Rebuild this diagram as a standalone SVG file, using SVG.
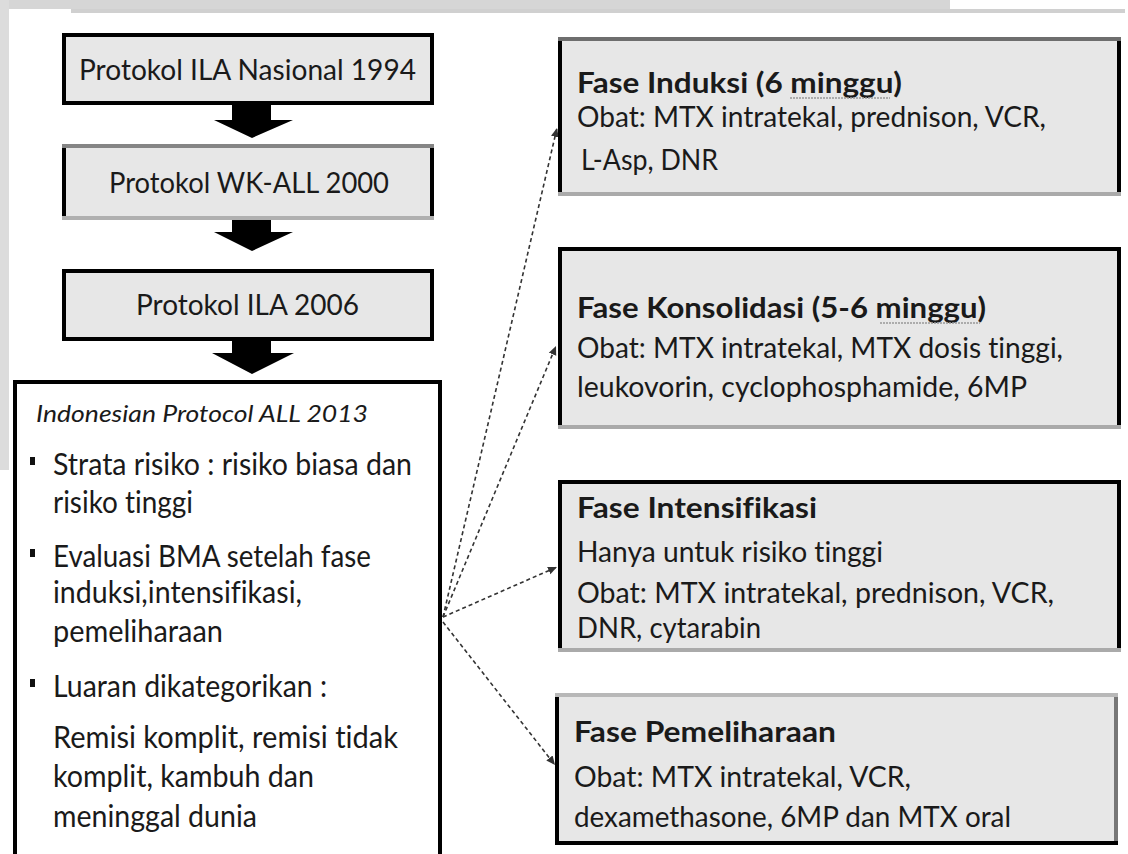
<svg xmlns="http://www.w3.org/2000/svg" width="1128" height="854" viewBox="0 0 1128 854">
<style>
.t{font-family:Lato,"Liberation Sans",sans-serif;fill:#1a1a1a;font-variant-ligatures:none;font-feature-settings:"liga" 0;}
.box{fill:#e7e7e7;stroke:#000;stroke-width:4;}
.big{fill:#fff;stroke:#000;stroke-width:4;}
.n{font-size:28px;}
.b{font-size:28px;font-weight:bold;}
.l{font-size:30px;}
.it{font-size:24px;font-style:italic;}
.conn{stroke:#333;stroke-width:1.6;stroke-dasharray:4 3;fill:none;}
.sq{stroke:#999;stroke-width:1.5;stroke-dasharray:2 1;}
</style>
<defs>
<marker id="ah" markerWidth="10" markerHeight="10" refX="9" refY="5" orient="auto" markerUnits="userSpaceOnUse">
<path d="M0,1 L9,5 L0,9 Z" fill="#333"/>
</marker>
</defs>
<rect width="1128" height="854" fill="#fff"/>
<g id="frame">
<rect x="0" y="0" width="950" height="9" fill="#d6d6d6"/>
<rect x="71" y="9" width="1054" height="4" fill="#d0d0d0"/>
<rect x="0" y="0" width="9" height="470" fill="#dcdcdc"/>
</g>
<g id="connectors">
<polygon points="232,105 271,105 271,120 293,120 252,138 214,120 232,120" fill="#000"/>
<polygon points="232,220 271,220 271,232 293,232 252,251 214,232 232,232" fill="#000"/>
<polygon points="232,341 271,341 271,353 294,353 252,374 212,353 232,353" fill="#000"/>
<line class="conn" x1="443" y1="617" x2="557" y2="128" marker-end="url(#ah)"/>
<line class="conn" x1="443" y1="617" x2="556" y2="346" marker-end="url(#ah)"/>
<line class="conn" x1="443" y1="617" x2="557" y2="567" marker-end="url(#ah)"/>
<line class="conn" x1="443" y1="622" x2="555" y2="765" marker-end="url(#ah)"/>
</g>
<g id="node1">
<rect class="box" x="64" y="35" width="368" height="68"/>
<text class="t n" x="79" y="80" textLength="337" lengthAdjust="spacingAndGlyphs">Protokol ILA Nasional 1994</text>
</g>
<g id="node2">
<rect class="box" x="64" y="146" width="368" height="72"/>
<line x1="62" y1="146" x2="434" y2="146" stroke="#858585" stroke-width="4"/>
<line x1="62" y1="218" x2="434" y2="218" stroke="#b0b0b0" stroke-width="4"/>
<text class="t n" x="109" y="193" textLength="280" lengthAdjust="spacingAndGlyphs">Protokol WK-ALL 2000</text>
</g>
<g id="node3">
<rect class="box" x="64" y="271" width="368" height="68"/>
<text class="t n" x="136" y="315" textLength="223" lengthAdjust="spacingAndGlyphs">Protokol ILA 2006</text>
</g>
<g id="node4">
<rect class="big" x="15" y="382" width="425" height="480"/>
<text class="t it" x="36" y="422" textLength="332" lengthAdjust="spacingAndGlyphs">Indonesian Protocol ALL 2013</text>
<rect x="30" y="457" width="5" height="8" fill="#111"/>
<rect x="30" y="549" width="5" height="8" fill="#111"/>
<rect x="30" y="679" width="5" height="8" fill="#111"/>
<text class="t l" x="53" y="475" textLength="359" lengthAdjust="spacingAndGlyphs">Strata risiko : risiko biasa dan</text>
<text class="t l" x="53" y="513" textLength="140" lengthAdjust="spacingAndGlyphs">risiko tinggi</text>
<text class="t l" x="53" y="567" textLength="318" lengthAdjust="spacingAndGlyphs">Evaluasi BMA setelah fase</text>
<text class="t l" x="53" y="603" textLength="249" lengthAdjust="spacingAndGlyphs">induksi,intensifikasi,</text>
<text class="t l" x="53" y="642" textLength="170" lengthAdjust="spacingAndGlyphs">pemeliharaan</text>
<text class="t l" x="53" y="697" textLength="274" lengthAdjust="spacingAndGlyphs">Luaran dikategorikan :</text>
<text class="t l" x="53" y="748" textLength="345" lengthAdjust="spacingAndGlyphs">Remisi komplit, remisi tidak</text>
<text class="t l" x="53" y="787" textLength="261" lengthAdjust="spacingAndGlyphs">komplit, kambuh dan</text>
<text class="t l" x="53" y="827" textLength="204" lengthAdjust="spacingAndGlyphs">meninggal dunia</text>
</g>
<g id="nodeA">
<rect class="box" x="560" y="39" width="559" height="155"/>
<line x1="558" y1="39" x2="1121" y2="39" stroke="#6e6e6e" stroke-width="4"/>
<line x1="558" y1="194" x2="1121" y2="194" stroke="#aaaaaa" stroke-width="4"/>
<text class="t b" x="577" y="93" textLength="325" lengthAdjust="spacingAndGlyphs">Fase Induksi (6 minggu)</text>
<line class="sq" x1="790" y1="98" x2="890" y2="98"/>
<text class="t n" x="577" y="127" textLength="469" lengthAdjust="spacingAndGlyphs">Obat: MTX intratekal, prednison, VCR,</text>
<text class="t n" x="581" y="170" textLength="137" lengthAdjust="spacingAndGlyphs">L-Asp, DNR</text>
</g>
<g id="nodeB">
<rect class="box" x="560" y="249" width="559" height="178"/>
<line x1="558" y1="427" x2="1121" y2="427" stroke="#aaaaaa" stroke-width="4"/>
<text class="t b" x="577" y="318" textLength="409" lengthAdjust="spacingAndGlyphs">Fase Konsolidasi (5-6 minggu)</text>
<line class="sq" x1="880" y1="323" x2="980" y2="323"/>
<text class="t n" x="577" y="358" textLength="486" lengthAdjust="spacingAndGlyphs">Obat: MTX intratekal,  MTX dosis tinggi,</text>
<text class="t n" x="577" y="397" textLength="450" lengthAdjust="spacingAndGlyphs">leukovorin, cyclophosphamide, 6MP</text>
</g>
<g id="nodeC">
<rect class="box" x="560" y="482" width="559" height="168"/>
<line x1="558" y1="650" x2="1121" y2="650" stroke="#aaaaaa" stroke-width="4"/>
<text class="t b" x="577" y="518" textLength="240" lengthAdjust="spacingAndGlyphs">Fase Intensifikasi</text>
<text class="t n" x="577" y="562" textLength="306" lengthAdjust="spacingAndGlyphs">Hanya untuk risiko tinggi</text>
<text class="t n" x="577" y="603" textLength="477" lengthAdjust="spacingAndGlyphs">Obat: MTX intratekal,  prednison, VCR,</text>
<text class="t n" x="577" y="638" textLength="184" lengthAdjust="spacingAndGlyphs">DNR, cytarabin</text>
</g>
<g id="nodeD">
<rect class="box" x="557" y="695" width="559" height="148"/>
<line x1="555" y1="695" x2="1118" y2="695" stroke="#b8b8b8" stroke-width="4"/>
<line x1="1116" y1="697" x2="1116" y2="841" stroke="#777" stroke-width="4"/>
<text class="t b" x="574" y="742" textLength="262" lengthAdjust="spacingAndGlyphs">Fase Pemeliharaan</text>
<text class="t n" x="574" y="787" textLength="337" lengthAdjust="spacingAndGlyphs">Obat: MTX intratekal,  VCR,</text>
<text class="t n" x="574" y="827" textLength="437" lengthAdjust="spacingAndGlyphs">dexamethasone, 6MP dan MTX oral</text>
</g>
</svg>
